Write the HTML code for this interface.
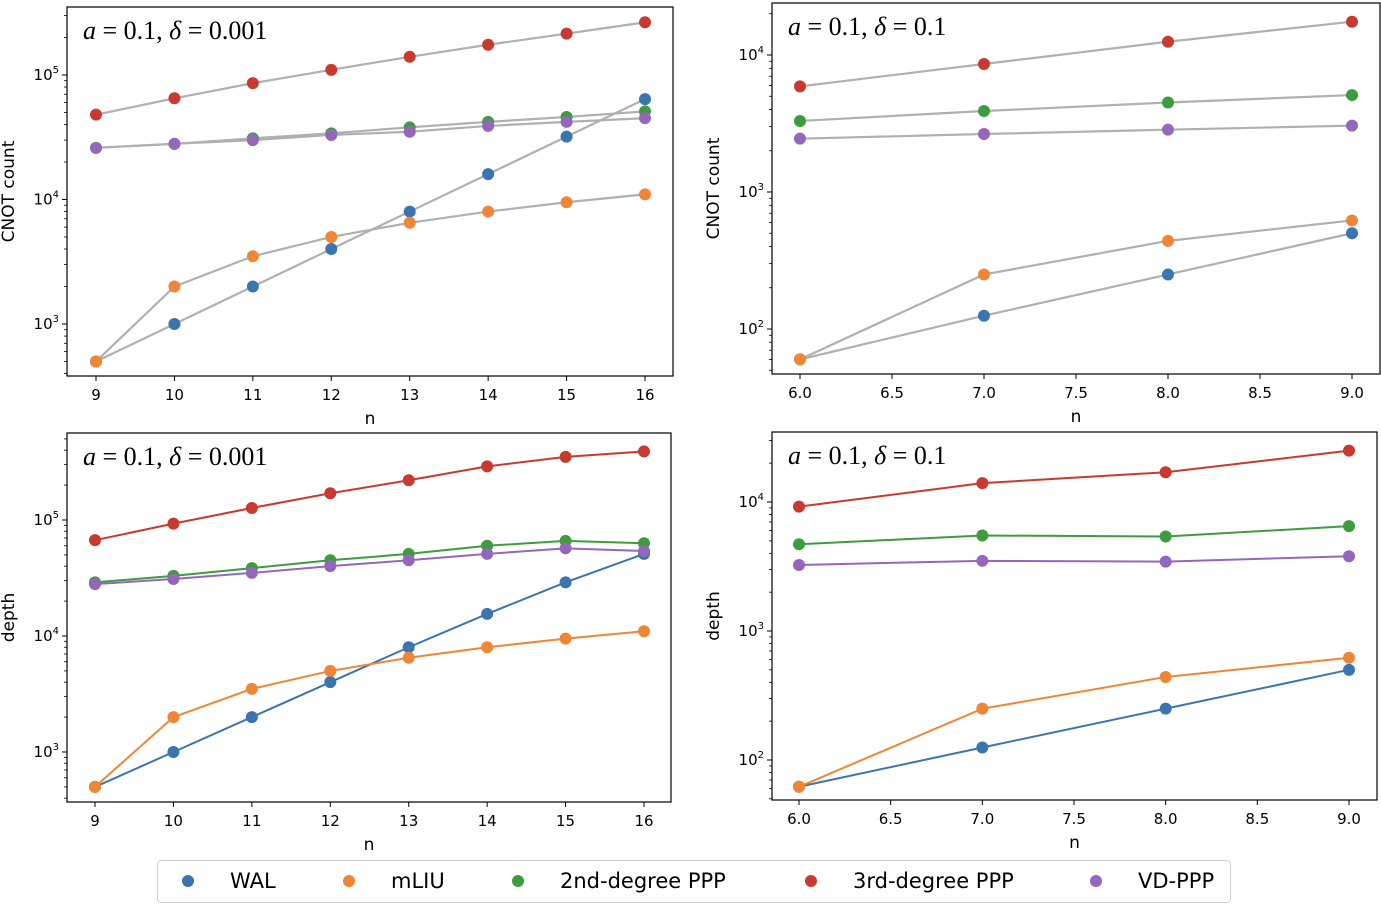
<!DOCTYPE html>
<html><head><meta charset="utf-8">
<style>
html,body{margin:0;padding:0;background:#fff;}
svg{display:block;font-family:"DejaVu Sans","Liberation Sans",sans-serif;}
</style></head>
<body>
<svg id="fig" width="1381" height="905" viewBox="0 0 1381 905" xmlns="http://www.w3.org/2000/svg"></svg>
<script>
const seriesNames = ["WAL","mLIU","2nd-degree PPP","3rd-degree PPP","VD-PPP"];
const seriesColors = ["#3a75b0","#ef8636","#3d9c3d","#c83a30","#9467bd"];
const nA = [9,10,11,12,13,14,15,16];
const nB = [6,7,8,9];
const xTicksA = [9,10,11,12,13,14,15,16];
const xTickLabelsA = ["9","10","11","12","13","14","15","16"];
const xTicksB = [6,6.5,7,7.5,8,8.5,9];
const xTickLabelsB = ["6.0","6.5","7.0","7.5","8.0","8.5","9.0"];
// top-left CNOT, delta=0.001
const cnotA_WAL = [500,1000,2000,4000,8000,16000,32000,64000];
const cnotA_mLIU = [500,2000,3500,5000,6500,8000,9500,11000];
const cnotA_P2 = [26000,28000,31000,34000,38000,42000,46000,51000];
const cnotA_P3 = [48000,65000,86000,110000,140000,175000,215000,265000];
const cnotA_VD = [26000,28000,30000,33000,35000,39000,42000,45000];
// top-right CNOT, delta=0.1
const cnotB_WAL = [60,125,250,500];
const cnotB_mLIU = [60,250,440,620];
const cnotB_P2 = [3300,3900,4500,5100];
const cnotB_P3 = [5900,8600,12500,17500];
const cnotB_VD = [2450,2650,2850,3050];
// bottom-left depth, delta=0.001
const depthA_WAL = [500,1000,2000,4000,8000,15500,29000,51000];
const depthA_mLIU = [500,2000,3500,5000,6500,8000,9500,11000];
const depthA_P2 = [29000,33000,38500,45000,51000,60000,66000,63000];
const depthA_P3 = [67000,93000,127000,170000,220000,290000,350000,390000];
const depthA_VD = [28000,31000,35000,40000,45000,51000,57000,54000];
// bottom-right depth, delta=0.1
const depthB_WAL = [62,125,250,500];
const depthB_mLIU = [62,250,440,620];
const depthB_P2 = [4700,5500,5400,6500];
const depthB_P3 = [9200,14000,17000,25000];
const depthB_VD = [3250,3500,3450,3800];

const NS="http://www.w3.org/2000/svg";
const svg=document.getElementById('fig');
function mk(tag,attrs,parent){const e=document.createElementNS(NS,tag);for(const k in attrs)e.setAttribute(k,attrs[k]);(parent||svg).appendChild(e);return e;}

const panels=[
 {name:'cnot-delta-0001',box:[67,7,673,376],x0:9,px0:96,x1:16,px1:645,d0:5,py0:75,d1:3,py1:324,ymin:2.55,ymax:5.56,decades:[3,4,5],
  xs:nA,xt:xTicksA,xl:xTickLabelsA,ylab:'CNOT count',ann:'0.001',gray:true,
  data:[cnotA_WAL,cnotA_mLIU,cnotA_P2,cnotA_P3,cnotA_VD]},
 {name:'cnot-delta-01',box:[772,3,1380,374],x0:6,px0:800,x1:9,px1:1352,d0:4,py0:55,d1:2,py1:329,ymin:1.67,ymax:4.38,decades:[2,3,4],
  xs:nB,xt:xTicksB,xl:xTickLabelsB,ylab:'CNOT count',ann:'0.1',gray:true,
  data:[cnotB_WAL,cnotB_mLIU,cnotB_P2,cnotB_P3,cnotB_VD]},
 {name:'depth-delta-0001',box:[67,433,671,802],x0:9,px0:95,x1:16,px1:644,d0:5,py0:520,d1:3,py1:752,ymin:2.55,ymax:5.76,decades:[3,4,5],
  xs:nA,xt:xTicksA,xl:xTickLabelsA,ylab:'depth',ann:'0.001',gray:false,
  data:[depthA_WAL,depthA_mLIU,depthA_P2,depthA_P3,depthA_VD]},
 {name:'depth-delta-01',box:[772,432,1377,800],x0:6,px0:799,x1:9,px1:1349,d0:4,py0:502,d1:2,py1:760,ymin:1.68,ymax:4.54,decades:[2,3,4],
  xs:nB,xt:xTicksB,xl:xTickLabelsB,ylab:'depth',ann:'0.1',gray:false,
  data:[depthB_WAL,depthB_mLIU,depthB_P2,depthB_P3,depthB_VD]}
];

panels.forEach(p=>{
 const g=mk('g',{});
 
 
 const X=v=>p.px0+(v-p.x0)*(p.px1-p.px0)/(p.x1-p.x0);
 const Y=v=>p.py0+(Math.log10(v)-p.d0)*(p.py1-p.py0)/(p.d1-p.d0);
 const [l,t,r,b]=p.box;
 // ticks
 p.xt.forEach((v,i)=>{
  const x=X(v);
  const tk=mk('line',{x1:x,x2:x,y1:b,y2:b+5,stroke:'#000','stroke-width':1},g);
  
  
  const tl=mk('text',{x:x,y:b+24,'text-anchor':'middle','font-size':15,fill:'#000'},g);
  tl.textContent=p.xl[i];
  
  
 });
 for(let d=Math.floor(p.ymin);d<=Math.ceil(p.ymax);d++){
  for(let m=1;m<10;m++){
   const lv=d+Math.log10(m);
   if(lv<p.ymin||lv>p.ymax)continue;
   const y=Y(Math.pow(10,lv));
   const major=m===1;
   const tk=mk('line',{x1:l-(major?5:3),x2:l,y1:y,y2:y,stroke:'#000','stroke-width':major?1:0.8},g);
   
   
   if(major){
    const tl=mk('text',{x:l-8,y:y+5,'text-anchor':'end','font-size':15,fill:'#000'},g);
    
    
    const a=mk('tspan',{},tl);a.textContent='10';
    const s=mk('tspan',{dy:-7,'font-size':10},tl);s.textContent=String(d);
   }
  }
 }
 // series
 p.data.forEach((vals,si)=>{
  const col=p.gray?'#b0b0b0':seriesColors[si];
  const pts=vals.map((v,i)=>X(p.xs[i])+','+Y(v)).join(' ');
  const pl=mk('polyline',{points:pts,fill:'none',stroke:col,'stroke-width':p.gray?2.2:2},g);
  
  
 });
 p.data.forEach((vals,si)=>{
  vals.forEach((v,i)=>{
   const c=mk('circle',{cx:X(p.xs[i]),cy:Y(v),r:6,fill:seriesColors[si]},g);
   
   
  });
 });
 const fr=mk('rect',{x:l,y:t,width:r-l,height:b-t,fill:'none',stroke:'#000','stroke-width':1.2},g);
 
 
 const xl=mk('text',{x:(l+r)/2,y:b+48,'text-anchor':'middle','font-size':17,fill:'#000'},g);
 xl.textContent='n';
 
 
 const yl=mk('text',{x:0,y:0,'text-anchor':'middle','font-size':17,fill:'#000',transform:`translate(${l-53},${(t+b)/2}) rotate(-90)`},g);
 yl.textContent=p.ylab;
 
 
 const an=mk('text',{x:l+16,y:t+32,'font-size':26,fill:'#000','font-family':'"Liberation Serif",serif'},g);
 
 
 const i1=mk('tspan',{'font-style':'italic'},an);i1.textContent='a';
 const s1=mk('tspan',{},an);s1.textContent=' = 0.1, ';
 const i2=mk('tspan',{'font-style':'italic'},an);i2.textContent='δ';
 const s2=mk('tspan',{},an);s2.textContent=' = '+p.ann;
});

// legend
const lg=mk('g',{});


const lr=mk('rect',{x:157.5,y:860.5,width:1073,height:42,rx:4,fill:'#fff',stroke:'#d0d0d0','stroke-width':1},lg);


const legX=[188,349,518,811,1096];
seriesNames.forEach((nm,i)=>{
 const e=mk('g',{},lg);
 
 
 mk('circle',{cx:legX[i],cy:881,r:6,fill:seriesColors[i]},e);
 const t=mk('text',{x:legX[i]+42,y:888,'font-size':21,fill:'#000'},e);
 t.textContent=nm;
});
</script>
</body></html>
